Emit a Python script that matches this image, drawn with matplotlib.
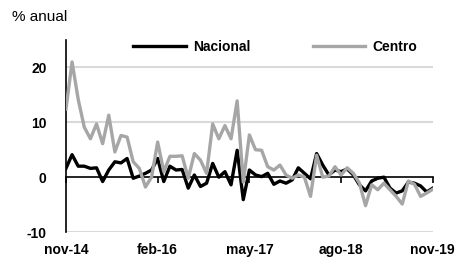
import numpy as np
import matplotlib.pyplot as plt
import matplotlib.transforms as mtransforms

plt.rcParams['font.family'] = ['Liberation Sans', 'DejaVu Sans']

# monthly series, nov-14 .. nov-19 (61 months), % annual change
nacional = [1.6, 4.1, 2.0, 2.0, 1.6, 1.7, -0.8, 1.3, 2.8, 2.6,
            3.4, -0.2, 0.2, 0.7, 1.3, 3.4, -0.8, 2.0, 1.3, 1.4,
            -2.0, 0.4, -1.7, -1.1, 2.5, 0.0, 1.0, -1.4, 4.9, -4.1,
            1.3, 0.4, 0.1, 0.7, -1.3, -0.7, -1.1, -0.5, 1.7, 0.7,
            -0.3, 4.3, 2.2, 0.4, 1.3, 1.0, 1.5, 0.4, -1.4, -2.5,
            -0.7, -0.2, 0.0, -2.0, -2.9, -2.5, -0.9, -1.1, -1.6, -2.7,
            -2.0]
centro = [12.4, 21.0, 14.2, 9.1, 7.0, 9.7, 6.1, 11.3, 4.6, 7.6,
          7.3, 2.8, 1.6, -1.8, 0.0, 6.4, 1.0, 3.8, 3.8, 3.9,
          -0.2, 4.3, 3.1, 0.7, 9.7, 7.0, 9.4, 7.0, 13.9, -0.9,
          7.7, 5.0, 4.9, 1.9, 1.3, 2.2, 0.4, -0.2, 0.4, 0.0,
          -3.5, 4.0, 0.0, 0.2, 1.9, 0.4, 1.7, 0.7, -1.1, -5.2,
          -1.4, -2.3, -1.1, -2.3, -3.5, -4.9, -0.7, -1.3, -3.5, -2.9,
          -2.2]
tick_pos = [0, 15, 30, 45, 60]
tick_labels = ['nov-14', 'feb-16', 'may-17', 'ago-18', 'nov-19']
y_ticks = [-10, 0, 10, 20]

months = np.arange(len(nacional))

fig = plt.figure(figsize=(4.58, 2.65), dpi=100)
ax = fig.add_axes([0.144, 0.1245, 0.801, 0.7245])

for y in [-10, 10, 20]:
    ax.axhline(y, color='#d9d9d9', lw=1.5, zorder=0)

ax.plot(months, nacional, color='black', lw=2.4, label='Nacional', zorder=3)
ax.plot(months, centro, color='#a6a6a6', lw=2.4, label='Centro', zorder=4)

ax.set_xlim(0, 60)
ax.set_ylim(-10, 25)

for s in ['top', 'right']:
    ax.spines[s].set_visible(False)
ax.spines['bottom'].set_position(('data', 0))
ax.spines['bottom'].set_linewidth(1.2)
ax.spines['left'].set_linewidth(1.2)

ax.set_xticks(tick_pos)
ax.set_xticklabels([])
ax.tick_params(axis='x', direction='out', length=4, width=1.2)
ax.set_yticks(y_ticks)
ax.set_yticklabels([str(v) for v in y_ticks], fontsize=10, fontweight='bold')
ax.tick_params(axis='y', length=0, pad=14)

trans = mtransforms.blended_transform_factory(ax.transData, ax.transAxes)
for p, lab in zip(tick_pos, tick_labels):
    ax.text(p, -0.095, lab, transform=trans, ha='center', va='center',
            fontsize=10, fontweight='bold')

fig.text(0.026, 0.935, '% anual', fontsize=11, ha='left', va='center')

ax.legend(loc='center', bbox_to_anchor=(0.57, 0.964), ncol=2, frameon=False,
          prop={'weight': 'bold', 'size': 10}, handlelength=3.8,
          columnspacing=4.5, handletextpad=0.5)

fig.savefig('out.png', dpi=100)
